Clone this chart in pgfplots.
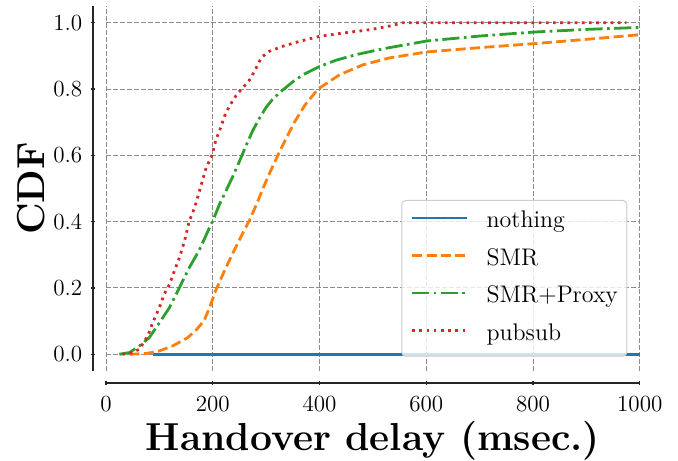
\documentclass[border=0pt]{standalone}
\usepackage{fontspec}
\setmainfont{Latin Modern Roman}
\usepackage{pgfplots}
\pgfplotsset{compat=1.18}
\definecolor{cblue}{HTML}{1F77B4}
\definecolor{corange}{HTML}{FF7F0E}
\definecolor{cgreen}{HTML}{2CA02C}
\definecolor{cred}{HTML}{D62728}
\definecolor{spine}{HTML}{262626}
\begin{document}
\begin{tikzpicture}
\begin{axis}[
  at={(0pt,0pt)}, anchor=south west,
  width=266.9pt, height=182.3pt, scale only axis,
  xmin=0, xmax=1000, ymin=-0.05, ymax=1.05,
  xtick={0,200,400,600,800,1000},
  ytick={0,0.2,0.4,0.6,0.8,1.0},
  axis x line*=bottom, axis y line*=left,
  x axis line style={yshift=-6.1pt, line width=0.65pt, spine, -},
  y axis line style={xshift=-6.5pt, line width=0.65pt, spine, -},
  xtick style={yshift=-6.1pt, line width=0.65pt, spine},
  ytick style={xshift=-6.5pt, line width=0.65pt, spine},
  tick align=center, major tick length=2.3pt,
  grid=major,
  grid style={dash pattern=on 2.5pt off 1pt, line width=0.45pt, color=black!45},
  /pgf/number format/assume math mode=true,
  /pgf/number format/1000 sep={},
  tick label style={font=\fontsize{11.55}{13.9}\selectfont, inner sep=0pt},
  xticklabel shift=11.2pt,
  yticklabel shift=10.5pt,
  yticklabel={\pgfmathprintnumber[fixed,fixed zerofill,precision=1]{\tick}},
  xlabel={Handover delay (msec.)},
  ylabel={CDF},
  label style={font=\fontsize{19.5}{23.4}\selectfont\bfseries, inner sep=0pt},
  xlabel style={at={(axis description cs:0.5,-0.137)}, anchor=north},
  ylabel style={at={(axis description cs:-0.1143,0.5)}, anchor=south},
  legend style={at={(axis description cs:0.9766,0.0387)}, anchor=south east,
    draw=black!20, line width=0.5pt, rounded corners=2pt, fill=white,
    fill opacity=0.8, draw opacity=1, text opacity=1,
    font=\fontsize{12}{14.4}\selectfont,
    inner xsep=4.5pt, inner ysep=5pt, row sep=7.15pt,
    /tikz/every odd column/.append style={column sep=9pt},
    nodes={inner sep=0pt, text height=8.7pt, text depth=2.9pt}},
  legend cell align=left,
  legend image code/.code={\draw[#1] (0pt,2pt) -- (27.5pt,2pt);},
]
\addplot[cblue, line width=1.4pt] coordinates {(88,0) (1000,0)};
\addlegendentry{nothing}
\addplot[corange, line width=1.4pt, dash pattern=on 5pt off 2.2pt] coordinates {
(44,0) (75,0.002) (100,0.01) (125,0.025) (153,0.05) (170,0.075) (184,0.102)
(195,0.145) (205,0.19) (220,0.245) (237.5,0.305) (253,0.355) (269,0.405) (282,0.452)
(294,0.5) (308,0.552) (322,0.6) (337,0.65) (353,0.7) (372,0.75) (397,0.8)
(437.5,0.843) (481,0.873) (531,0.894) (601,0.912) (700,0.925) (802,0.937)
(900,0.95) (1000,0.964)};
\addlegendentry{SMR}
\addplot[cgreen, line width=1.4pt, dash pattern=on 8.6pt off 2.2pt on 1.35pt off 2.2pt] coordinates {
(25,0) (44,0.005) (62.5,0.025) (81,0.05) (100,0.095) (119,0.141) (137.5,0.201)
(156,0.261) (175,0.315) (194,0.382) (200,0.402) (212.5,0.452) (225,0.494)
(237.5,0.536) (250,0.582) (262.5,0.63) (275,0.675) (287.5,0.712) (300,0.745)
(312.5,0.77) (331,0.797) (350,0.822) (369,0.843) (400,0.868) (431,0.887)
(469,0.904) (506,0.917) (531,0.925) (601,0.945) (700,0.96) (802,0.972)
(900,0.98) (1000,0.986)};
\addlegendentry{SMR+Proxy}
\addplot[cred, line width=1.4pt, line cap=butt, dash pattern=on 1.35pt off 2.25pt] coordinates {
(31,0) (44,0.002) (62.5,0.015) (78,0.055) (87.5,0.095) (100,0.141) (109,0.181)
(119,0.211) (128,0.251) (137.5,0.291) (147,0.341) (156,0.402) (166,0.442)
(175,0.492) (187.5,0.562) (199,0.602) (206,0.648) (212.5,0.673) (222,0.718)
(231,0.748) (240.6,0.773) (247,0.788) (256,0.803) (269,0.828) (278,0.853)
(287.5,0.884) (294,0.899) (306,0.914) (331,0.929) (362.5,0.944) (400,0.959)
(444,0.969) (494,0.979) (531,0.99) (555,1.0) (975,1.0)};
\addlegendentry{pubsub}
\end{axis}
\pgfresetboundingbox
\path[use as bounding box] (-53pt,-44.6pt) rectangle (286pt,185.4pt);
\end{tikzpicture}
\end{document}
